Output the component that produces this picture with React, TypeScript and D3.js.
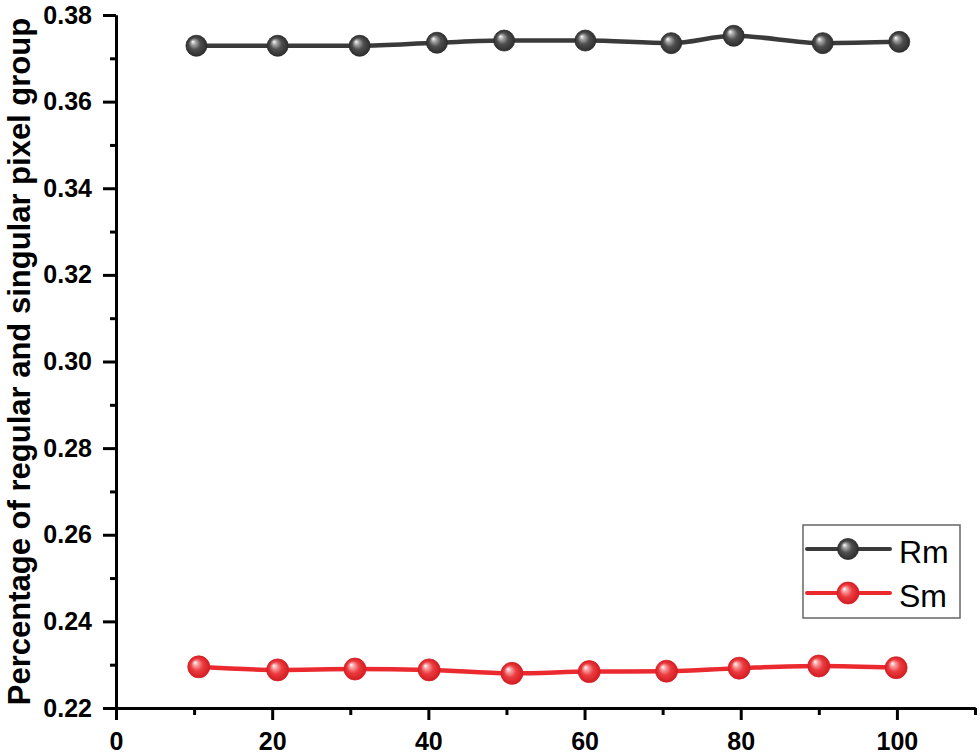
import React, { useEffect, useRef } from "react";
import * as d3 from "d3";

const rmX = [10.3, 20.7, 31.2, 41.1, 49.7, 60.1, 71.1, 79.1, 90.5, 100.3];
const rmY = [0.3729, 0.3729, 0.3729, 0.3736, 0.3741, 0.3741, 0.3735, 0.3752, 0.3735, 0.3738];
const smX = [10.6, 20.7, 30.6, 40.1, 50.7, 60.6, 70.5, 79.8, 90.0, 99.9];
const smY = [0.2295, 0.2288, 0.229, 0.2288, 0.228, 0.2284, 0.2285, 0.2292, 0.2297, 0.2293];
const xMajor = [0, 20, 40, 60, 80, 100];
const xMinor = [10, 30, 50, 70, 90, 110];
const yMajor = [0.22, 0.24, 0.26, 0.28, 0.3, 0.32, 0.34, 0.36, 0.38];
const yMinor = [0.23, 0.25, 0.27, 0.29, 0.31, 0.33, 0.35, 0.37];
const seriesNames = ["Rm", "Sm"];
const yTitle = "Percentage of regular and singular pixel group";

const FONT = "'Liberation Sans', Arial, Helvetica, sans-serif";

export default function App() {
  const ref = useRef<SVGSVGElement | null>(null);

  useEffect(() => {
    const svg = d3.select(ref.current!);
    svg.selectAll("*").remove();
    const W = 980, H = 755;
    const m = { left: 116, right: 5, top: 15, bottom: 47 };
    const x = d3.scaleLinear().domain([0, 110]).range([m.left, W - m.right]);
    const y = d3.scaleLinear().domain([0.22, 0.38]).range([H - m.bottom, m.top]);

    const defs = svg.append("defs");
    const mkGrad = (id: string, light: string, base: string, edge: string) => {
      const g = defs.append("radialGradient").attr("id", id)
        .attr("cx", "0.5").attr("cy", "0.5").attr("r", "0.5")
        .attr("fx", "0.32").attr("fy", "0.3");
      g.append("stop").attr("offset", "0").attr("stop-color", "#ffffff");
      g.append("stop").attr("offset", "0.22").attr("stop-color", light);
      g.append("stop").attr("offset", "0.55").attr("stop-color", base);
      g.append("stop").attr("offset", "1").attr("stop-color", edge);
    };
    mkGrad("gGray", "#a8a8a8", "#4e4e4e", "#2e2e2e");
    mkGrad("gRed", "#f6a0a2", "#ec3c40", "#d21c22");

    const styleAxis = (g: any) => {
      g.selectAll("path.domain").attr("stroke", "#000").attr("stroke-width", 3);
      g.selectAll("line").attr("stroke", "#000").attr("stroke-width", 3);
      g.selectAll("text").attr("fill", "#000").attr("font-family", FONT)
        .attr("font-size", 25).attr("font-weight", "bold");
    };

    const xAxisMinor = svg.append("g").attr("transform", `translate(0,${H - m.bottom})`)
      .call(d3.axisBottom(x).tickValues(xMinor).tickSize(7).tickSizeOuter(0).tickFormat(() => ""));
    styleAxis(xAxisMinor);
    const xAxis = svg.append("g").attr("transform", `translate(0,${H - m.bottom})`)
      .call(d3.axisBottom(x).tickValues(xMajor).tickSize(12).tickSizeOuter(0).tickPadding(12).tickFormat(d3.format("d")));
    styleAxis(xAxis);

    const yAxisMinor = svg.append("g").attr("transform", `translate(${m.left},0)`)
      .call(d3.axisLeft(y).tickValues(yMinor).tickSize(6).tickSizeOuter(0).tickFormat(() => ""));
    styleAxis(yAxisMinor);
    const yAxis = svg.append("g").attr("transform", `translate(${m.left},0)`)
      .call(d3.axisLeft(y).tickValues(yMajor).tickSize(13).tickSizeOuter(0).tickPadding(11).tickFormat(d3.format(".2f")));
    styleAxis(yAxis);

    svg.append("text")
      .attr("transform", `translate(30,${(y(0.22) + y(0.38)) / 2}) rotate(-90)`)
      .attr("text-anchor", "middle")
      .attr("font-family", FONT).attr("font-weight", "bold").attr("font-size", 31)
      .attr("fill", "#000")
      .text(yTitle);

    const line = d3.line<[number, number]>().x(d => x(d[0])).y(d => y(d[1])).curve(d3.curveMonotoneX);

    const series = [
      { name: seriesNames[0], xs: rmX, ys: rmY, color: "#3a3a3a", grad: "url(#gGray)", stroke: "#2b2b2b", r: 10.5 },
      { name: seriesNames[1], xs: smX, ys: smY, color: "#ea2a2f", grad: "url(#gRed)", stroke: "#d81e24", r: 11 },
    ];

    series.forEach(s => {
      const pts: [number, number][] = s.xs.map((v, i) => [v, s.ys[i]]);
      svg.append("path").datum(pts).attr("d", line).attr("fill", "none")
        .attr("stroke", s.color).attr("stroke-width", 4.5);
      svg.append("g").selectAll("circle").data(pts).join("circle")
        .attr("cx", d => x(d[0])).attr("cy", d => y(d[1])).attr("r", s.r)
        .attr("fill", s.grad).attr("stroke", s.stroke).attr("stroke-width", 0.8);
    });

    const lg = svg.append("g");
    lg.append("rect").attr("x", 803).attr("y", 525).attr("width", 157).attr("height", 93)
      .attr("fill", "#fff").attr("stroke", "#666").attr("stroke-width", 1.5);
    series.forEach((s, i) => {
      const cy = 549 + i * 44;
      lg.append("line").attr("x1", 807).attr("x2", 890).attr("y1", cy).attr("y2", cy)
        .attr("stroke", s.color).attr("stroke-width", 4).attr("stroke-linecap", "round");
      lg.append("circle").attr("cx", 848).attr("cy", cy).attr("r", s.r)
        .attr("fill", s.grad).attr("stroke", s.stroke).attr("stroke-width", 0.8);
      lg.append("text").attr("x", 899).attr("y", cy + 14)
        .attr("font-family", FONT).attr("font-size", 32).attr("fill", "#000")
        .text(s.name);
    });
  }, []);

  return (
    <svg ref={ref} width={980} height={755}
      style={{ position: "absolute", left: 0, top: 0, background: "#fff" }} />
  );
}
